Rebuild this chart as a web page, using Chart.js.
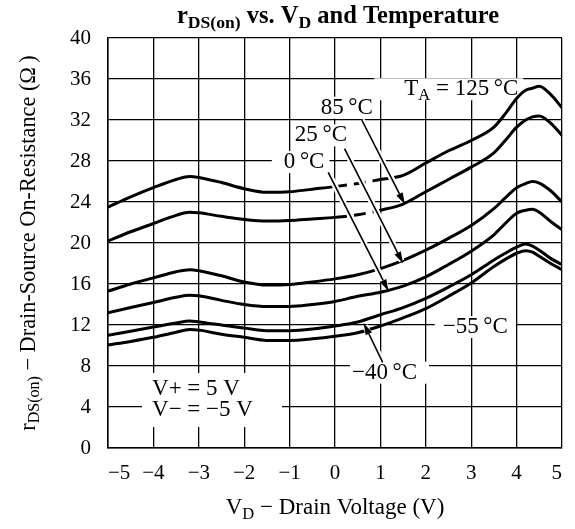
<!DOCTYPE html>
<html>
<head>
<meta charset="utf-8">
<script src="https://cdn.jsdelivr.net/npm/chart.js@4.4.1/dist/chart.umd.min.js"></script>
<style>
  html, body { margin: 0; padding: 0; background: #fff; }
  #wrap { width: 575px; height: 529px; }
</style>
</head>
<body>
<div id="wrap"><canvas id="rdsChart" width="575" height="529"></canvas></div>
<script>
// drain voltage (V) and on-resistance (ohm) per temperature
const drainVoltage = [-5, -4.5, -4, -3.5, -3.2, -3, -2.5, -2, -1.5, -1, -0.5, 0, 0.5, 1, 1.5, 2, 2.5, 3, 3.5, 3.75, 4, 4.2, 4.35, 4.5, 4.75, 5];
const rds125 = [23.5, 24.5, 25.4, 26.2, 26.5, 26.4, 25.9, 25.3, 24.95, 25.0, 25.25, 25.5, 25.8, 26.2, 26.6, 27.8, 29.0, 30.0, 31.3, 32.6, 34.1, 34.9, 35.1, 35.3, 34.5, 33.2];
const rds85 = [20.2, 21.1, 21.9, 22.7, 23.0, 22.95, 22.6, 22.3, 22.15, 22.2, 22.35, 22.5, 22.75, 23.2, 23.8, 25.0, 26.2, 27.4, 28.8, 30.0, 31.3, 32.0, 32.3, 32.4, 31.7, 30.5];
const rds25 = [15.3, 16.0, 16.6, 17.2, 17.4, 17.3, 16.8, 16.2, 15.9, 15.95, 16.2, 16.5, 16.9, 17.5, 18.3, 19.3, 20.45, 21.7, 23.35, 24.4, 25.4, 25.8, 26.0, 25.85, 25.1, 24.0];
const rds0 = [13.2, 13.7, 14.2, 14.7, 14.9, 14.85, 14.4, 14.0, 13.8, 13.8, 14.0, 14.3, 14.8, 15.2, 15.8, 16.7, 17.9, 19.2, 20.8, 21.9, 22.9, 23.2, 23.3, 23.0, 22.1, 21.3];
const rdsM40 = [11.0, 11.4, 11.8, 12.2, 12.4, 12.3, 12.0, 11.7, 11.45, 11.45, 11.6, 11.9, 12.3, 13.0, 13.7, 14.6, 15.7, 16.9, 18.35, 19.0, 19.6, 19.9, 19.7, 19.3, 18.5, 17.9];
const rdsM55 = [10.05, 10.4, 10.8, 11.3, 11.55, 11.5, 11.1, 10.8, 10.5, 10.5, 10.65, 10.9, 11.25, 11.9, 12.7, 13.6, 14.8, 16.1, 17.7, 18.4, 19.0, 19.25, 19.1, 18.7, 18.0, 17.4];

const xTickStep = 1;
const yTickStep = 4;

const SERIF = '"Liberation Serif", "DejaVu Serif", serif';

// label texts: [text, isSubscript]
const notes = [
    { parts: [['T', 0], ['A', 1], [' = 125\u2009°C', 0]], x: 2.78, y: 35.0, padL: 30, padR: 5 },
    { parts: [['85\u2009°C', 0]], x: 0.26, y: 33.2, padL: 3, padR: 3 },
    { parts: [['25\u2009°C', 0]], x: -0.31, y: 30.5, padL: 3, padR: 3 },
    { parts: [['0\u2009°C', 0]], x: -0.68, y: 27.9, padL: 12, padR: 5 },
    { parts: [['−55\u2009°C', 0]], x: 3.09, y: 11.8, padL: 8, padR: 8 },
    { parts: [['−40\u2009°C', 0]], x: 1.09, y: 7.35, padL: 2, padR: 12 },
    { parts: [['V+ = 5 V', 0]], x: -4.03, y: 5.8, align: 'left', box: [142, 282, 373, 427] },
    { parts: [['V− = −5 V', 0]], x: -4.03, y: 3.68, align: 'left' }
];

const pointers = [
    { from: [0.59, 32.0], to: [1.54, 23.75] },
    { from: [0.21, 29.2], to: [1.50, 18.0] },
    { from: [-0.15, 26.9], to: [1.18, 15.3] },
    { from: [1.05, 8.35], to: [0.63, 12.2] }
];

function toPoints(values) {
    return drainVoltage.map((v, i) => ({ x: v, y: values[i] }));
}

function richWidth(ctx, parts, size, bold) {
    let w = 0;
    parts.forEach(p => {
        ctx.font = (bold ? 'bold ' : '') + (p[1] ? size * 0.72 : size) + 'px ' + SERIF;
        w += ctx.measureText(p[0]).width;
    });
    return w;
}

function drawRich(ctx, parts, x, y, size, bold, align) {
    const w = richWidth(ctx, parts, size, bold);
    let cx = align === 'left' ? x : x - w / 2;
    ctx.textAlign = 'left';
    ctx.textBaseline = 'middle';
    ctx.fillStyle = '#000';
    parts.forEach(p => {
        const s = p[1] ? size * 0.72 : size;
        ctx.font = (bold ? 'bold ' : '') + s + 'px ' + SERIF;
        ctx.fillText(p[0], cx, p[1] ? y + size * 0.28 : y);
        cx += ctx.measureText(p[0]).width;
    });
    return w;
}

const dashedGap = ctx => (ctx.p0.parsed.x >= 0 && ctx.p1.parsed.x <= 1) ? [12, 7] : undefined;

function lineSet(label, values, dashed) {
    const ds = {
        label: label,
        data: toPoints(values),
        borderColor: '#000',
        borderWidth: 3,
        pointRadius: 0,
        fill: false,
        cubicInterpolationMode: 'monotone'
    };
    if (dashed) ds.segment = { borderDash: dashedGap };
    return ds;
}

const noteSize = 23;

const notesPlugin = {
    id: 'notes',
    beforeDatasetsDraw(chart) {
        const ctx = chart.ctx;
        const xs = chart.scales.x, ys = chart.scales.y;
        ctx.save();
        ctx.fillStyle = '#fff';
        notes.forEach(n => {
            if (n.box) {
                ctx.fillRect(n.box[0], n.box[2], n.box[1] - n.box[0], n.box[3] - n.box[2]);
                return;
            }
            if (n.align === 'left') return;
            const w = richWidth(ctx, n.parts, noteSize, false);
            const px = xs.getPixelForValue(n.x), py = ys.getPixelForValue(n.y);
            ctx.fillRect(px - w / 2 - n.padL, py - 11, w + n.padL + n.padR, 22);
        });
        ctx.restore();
    },
    afterDatasetsDraw(chart) {
        const ctx = chart.ctx;
        const xs = chart.scales.x, ys = chart.scales.y;
        ctx.save();
        const segs = pointers.map(p => {
            const x0 = xs.getPixelForValue(p.from[0]), y0 = ys.getPixelForValue(p.from[1]);
            const x1 = xs.getPixelForValue(p.to[0]), y1 = ys.getPixelForValue(p.to[1]);
            return [x0, y0, x1, y1];
        });
        // white halo first so crossed curves get a gap
        ctx.strokeStyle = '#fff';
        ctx.lineWidth = 6;
        segs.forEach(s => {
            const a = Math.atan2(s[3] - s[1], s[2] - s[0]);
            ctx.beginPath();
            ctx.moveTo(s[0], s[1]);
            ctx.lineTo(s[2] - Math.cos(a) * 3, s[3] - Math.sin(a) * 3);
            ctx.stroke();
        });
        ctx.strokeStyle = '#000';
        ctx.fillStyle = '#000';
        ctx.lineWidth = 1.6;
        segs.forEach(s => {
            const a = Math.atan2(s[3] - s[1], s[2] - s[0]);
            const hx = s[2] - Math.cos(a) * 12, hy = s[3] - Math.sin(a) * 12;
            ctx.beginPath();
            ctx.moveTo(s[0], s[1]);
            ctx.lineTo(hx, hy);
            ctx.stroke();
            ctx.beginPath();
            ctx.moveTo(s[2], s[3]);
            ctx.lineTo(hx + Math.sin(a) * 3.5, hy - Math.cos(a) * 3.5);
            ctx.lineTo(hx - Math.sin(a) * 3.5, hy + Math.cos(a) * 3.5);
            ctx.closePath();
            ctx.fill();
        });
        notes.forEach(n => {
            drawRich(ctx, n.parts, xs.getPixelForValue(n.x), ys.getPixelForValue(n.y), noteSize, false, n.align);
        });
        ctx.restore();
    },
    afterDraw(chart) {
        const ctx = chart.ctx;
        const area = chart.chartArea;
        const mid = (area.left + area.right) / 2;
        ctx.save();
        drawRich(ctx, [['r', 0], ['DS(on)', 1], [' vs. V', 0], ['D', 1], [' and Temperature', 0]], mid + 3, 17, 24.5, true);
        drawRich(ctx, [['V', 0], ['D', 1], [' − Drain Voltage (V)', 0]], mid, 508, 23, false);
        ctx.translate(29, (area.top + area.bottom) / 2);
        ctx.rotate(-Math.PI / 2);
        drawRich(ctx, [['r', 0], ['DS(on)', 1], [' − Drain-Source On-Resistance (Ω\u2009)', 0]], 0, 0, 22.3, false);
        ctx.restore();
    }
};

new Chart(document.getElementById('rdsChart'), {
    type: 'line',
    data: {
        datasets: [
            lineSet('125°C', rds125, true),
            lineSet('85°C', rds85, true),
            lineSet('25°C', rds25, false),
            lineSet('0°C', rds0, false),
            lineSet('-40°C', rdsM40, false),
            lineSet('-55°C', rdsM55, false)
        ]
    },
    options: {
        responsive: false,
        animation: false,
        devicePixelRatio: 1,
        layout: { padding: { top: 38, right: 7, left: 0, bottom: 0 } },
        plugins: {
            legend: { display: false },
            title: { display: false },
            tooltip: { enabled: false }
        },
        scales: {
            x: {
                type: 'linear',
                min: -5,
                max: 5,
                afterFit: scale => { scale.height = 81; },
                ticks: {
                    stepSize: xTickStep,
                    color: '#000',
                    padding: 13,
                    align: 'inner',
                    font: { family: SERIF, size: 21 },
                    callback: v => String(v).replace('-', '−')
                },
                grid: { color: '#000', lineWidth: 1.3, drawTicks: false },
                border: { color: '#000', width: 1.5 }
            },
            y: {
                min: 0,
                max: 40,
                afterFit: scale => { scale.width = 108; },
                ticks: {
                    stepSize: yTickStep,
                    color: '#000',
                    padding: 17,
                    font: { family: SERIF, size: 21 }
                },
                grid: { color: '#000', lineWidth: 1.3, drawTicks: false },
                border: { color: '#000', width: 1.5 }
            }
        }
    },
    plugins: [notesPlugin]
});
</script>
</body>
</html>
